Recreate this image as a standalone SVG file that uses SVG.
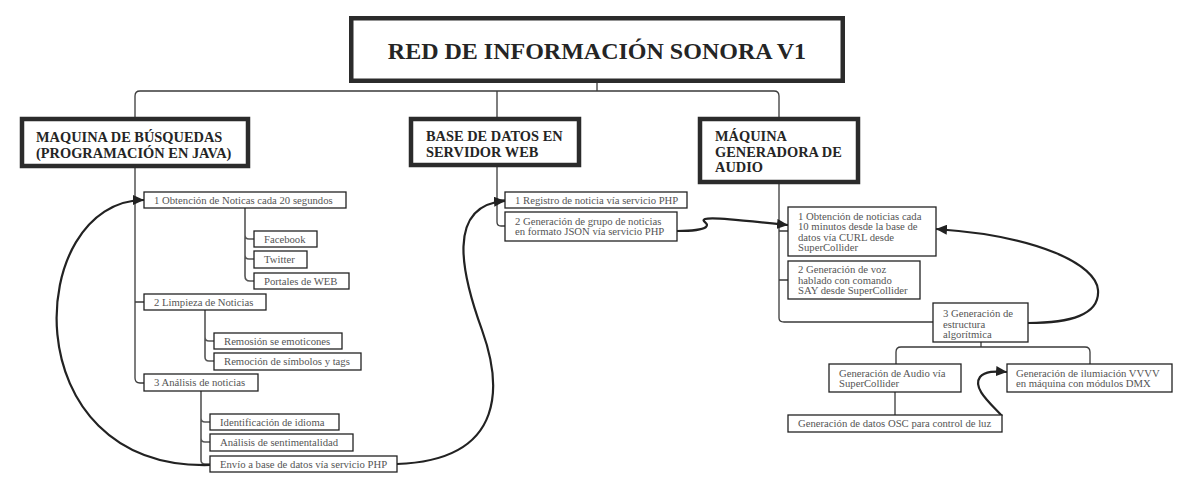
<svg xmlns="http://www.w3.org/2000/svg" width="1190" height="490" viewBox="0 0 1190 490">
<defs>
<style>
.big{fill:#fff;stroke:#2b2b2b;stroke-width:4.5}
.sm{fill:#fff;stroke:#222;stroke-width:1.3}
.h{font-family:"Liberation Serif","Times New Roman",serif;font-weight:bold;font-size:14.4px;fill:#252525}
.t{font-family:"Liberation Serif","Times New Roman",serif;font-size:10.7px;fill:#555}
.ln{fill:none;stroke:#3a3a3a;stroke-width:1.3}
.sub{fill:none;stroke:#555;stroke-width:1.6}
.cv{fill:none;stroke:#222;stroke-width:2.2;marker-end:url(#ah)}
</style>
<marker id="ah" markerUnits="userSpaceOnUse" markerWidth="12" markerHeight="10" refX="11" refY="5" orient="auto">
<path d="M0,0 L11,5 L0,10 Z" fill="#222"/>
</marker>
</defs>
<rect width="1190" height="490" fill="#fff"/>

<g id="connectors">
<path class="ln" d="M597,83 V91 M135,117 V96 Q135,91 140,91 H774 Q779,91 779,96 V117 M497,91 V117"/>
<path class="ln" d="M135,168 V378 Q135,383 140,383 H144 M135,200 H144 M135,302 H144"/>
<path class="sub" d="M245,208 V276 Q245,281 250,281 H254 M245,235 Q245,239 249,239 H254 M245,255 Q245,259 249,259 H254"/>
<path class="sub" d="M205,310 V357 Q205,361 209,361 H214 M205,337 Q205,341 209,341 H214"/>
<path class="sub" d="M201,391 V460 Q201,464 205,464 H210 M201,418 Q201,422 205,422 H210 M201,438 Q201,442 205,442 H210"/>
<path class="ln" d="M497,167 V222 Q497,226 501,226 H505 M497,200 H505"/>
<path class="ln" d="M779,184 V318 Q779,322 784,322 H933 M779,231 H788 M779,280 H788"/>
<path class="ln" d="M981,342 V347 M896,364 V352 Q896,347 901,347 H1085 Q1090,347 1090,352 V364 M895,392 V415"/>
<path class="cv" d="M210,465 C 10,470 25,200 144,200"/>
<path class="cv" d="M397,464 C 510,460 500,380 482,330 C 462,275 445,205 505,201"/>
<path class="cv" d="M677,231 C 692,231 702,230 706,227 C 710,223 700,221 705,219 C 712,217 740,220 788,225"/>
<path class="cv" d="M1028,323 C 1070,323 1100,315 1098,290 C 1096,265 1040,236 936,229"/>
<path class="cv" d="M1002,416 C 990,403 972,388 980,377 C 985,371 995,371 1007,372"/>
</g>

<g id="title">
<rect class="big" x="351.25" y="18.25" width="491.5" height="62.5"/>
<text x="597" y="59" text-anchor="middle" font-family="Liberation Serif, Times New Roman, serif" font-weight="bold" font-size="24" fill="#252525">RED DE INFORMACIÓN SONORA V1</text>
</g>

<g id="maquina-busquedas">
<rect class="big" x="22" y="119" width="226" height="47"/>
<text class="h" x="36" y="141.5">MAQUINA DE BÚSQUEDAS</text>
<text class="h" x="36" y="158">(PROGRAMACIÓN EN JAVA)</text>
</g>
<g id="base-datos">
<rect class="big" x="411" y="119" width="168" height="46"/>
<text class="h" x="426" y="141">BASE DE DATOS EN</text>
<text class="h" x="426" y="157">SERVIDOR WEB</text>
</g>
<g id="maquina-audio">
<rect class="big" x="700" y="119" width="158" height="63"/>
<text class="h" x="715" y="141">MÁQUINA</text>
<text class="h" x="715" y="156.5">GENERADORA DE</text>
<text class="h" x="715" y="172">AUDIO</text>
</g>

<g id="l1"><rect class="sm" x="144" y="192" width="202" height="16"/><text class="t" x="154" y="203.7">1 Obtención de Noticas cada 20 segundos</text></g>
<g id="l1a"><rect class="sm" x="254" y="231" width="63" height="16"/><text class="t" x="264" y="242.7">Facebook</text></g>
<g id="l1b"><rect class="sm" x="254" y="251" width="53" height="17"/><text class="t" x="264" y="263.2">Twitter</text></g>
<g id="l1c"><rect class="sm" x="254" y="273" width="95" height="16"/><text class="t" x="264" y="284.7">Portales de WEB</text></g>
<g id="l2"><rect class="sm" x="144" y="294" width="122" height="16"/><text class="t" x="154" y="305.7">2 Limpieza de Noticias</text></g>
<g id="l2a"><rect class="sm" x="214" y="333" width="128" height="16"/><text class="t" x="224" y="344.7">Remosión se emoticones</text></g>
<g id="l2b"><rect class="sm" x="214" y="353" width="147" height="17"/><text class="t" x="224" y="365.2">Remoción de símbolos y tags</text></g>
<g id="l3"><rect class="sm" x="144" y="374" width="114" height="17"/><text class="t" x="154" y="386.2">3 Análisis de noticias</text></g>
<g id="l3a"><rect class="sm" x="210" y="414" width="129" height="16"/><text class="t" x="220" y="425.7">Identificación de idioma</text></g>
<g id="l3b"><rect class="sm" x="210" y="434" width="143" height="17"/><text class="t" x="220" y="446.2">Análisis de sentimentalidad</text></g>
<g id="l3c"><rect class="sm" x="210" y="456" width="187" height="16"/><text class="t" x="220" y="467.7">Envío a base de datos vía servicio PHP</text></g>

<g id="m1"><rect class="sm" x="505" y="192" width="182" height="16"/><text class="t" x="515" y="203.7">1 Registro de noticia vía servicio PHP</text></g>
<g id="m2"><rect class="sm" x="505" y="212" width="172" height="29"/><text class="t" x="515" y="224.5">2 Generación de grupo de noticias</text><text class="t" x="515" y="235">en formato JSON vía servicio PHP</text></g>

<g id="r1"><rect class="sm" x="788" y="207" width="148" height="49"/>
<text class="t" x="798" y="219.5">1 Obtención de noticias cada</text>
<text class="t" x="798" y="230">10 minutos desde la base de</text>
<text class="t" x="798" y="240.5">datos vía CURL desde</text>
<text class="t" x="798" y="251">SuperCollider</text></g>
<g id="r2"><rect class="sm" x="788" y="261" width="132" height="38"/>
<text class="t" x="798" y="273">2 Generación de voz</text>
<text class="t" x="798" y="283.5">hablado con comando</text>
<text class="t" x="798" y="294">SAY desde SuperCollider</text></g>
<g id="r3"><rect class="sm" x="933" y="303" width="95" height="39"/>
<text class="t" x="943" y="317">3 Generación de</text>
<text class="t" x="943" y="327.5">estructura</text>
<text class="t" x="943" y="338">algorítmica</text></g>
<g id="r3a"><rect class="sm" x="829" y="364" width="132" height="28"/>
<text class="t" x="839" y="376.5">Generación de Audio vía</text>
<text class="t" x="839" y="387">SuperCollider</text></g>
<g id="r3b"><rect class="sm" x="1007" y="364" width="165" height="28"/>
<text class="t" x="1016" y="376.5">Generación de ilumiación VVVV</text>
<text class="t" x="1016" y="387">en máquina con módulos DMX</text></g>
<g id="r3c"><rect class="sm" x="788" y="415" width="214" height="17"/>
<text class="t" x="798" y="427.2">Generación de datos OSC para control de luz</text></g>
</svg>
